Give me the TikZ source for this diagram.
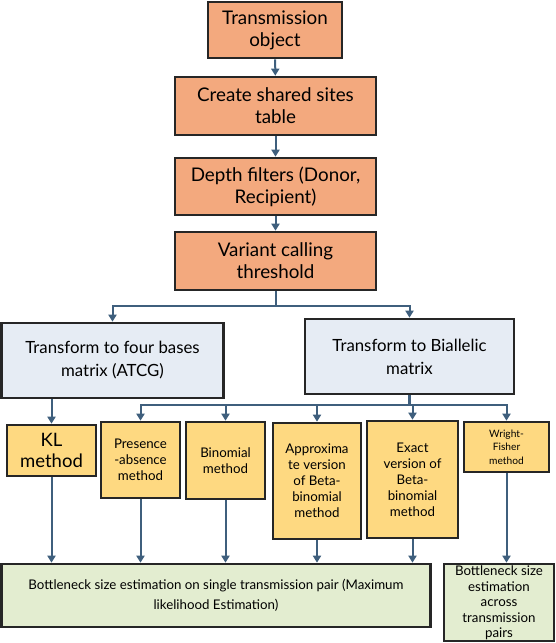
\documentclass[tikz,border=0pt]{standalone}
\usepackage{fontspec}
\setmainfont{Lato}
\usetikzlibrary{arrows.meta}
\definecolor{orangefill}{HTML}{F3A97E}
\definecolor{bluefill}{HTML}{E6ECF4}
\definecolor{yellowfill}{HTML}{FED981}
\definecolor{greenfill}{HTML}{E3EDD0}
\definecolor{edge}{HTML}{262626}
\definecolor{arrowc}{HTML}{3F5F7D}
\tikzset{
  basebox/.style={draw=edge, line width=2.6pt, align=center, inner sep=0pt},
  obox/.style={basebox, fill=orangefill, font=\fontsize{18.8}{22}\selectfont},
  bbox/.style={basebox, fill=bluefill, font=\fontsize{16.8}{23}\selectfont},
  ybox/.style={basebox, fill=yellowfill, font=\fontsize{13.3}{16}\selectfont},
  gbox/.style={basebox, fill=greenfill},
  arr/.style={draw=arrowc, line width=2pt, -{Triangle[width=8pt,length=7pt]}},
  ln/.style={draw=arrowc, line width=2pt},
}
\begin{document}
\begin{tikzpicture}[x=1pt,y=-1pt]
\useasboundingbox (0,0) rectangle (555,643);
% orange chain
\node[obox, minimum width=134pt, minimum height=56pt] (t1) at (275,30) {Transmission\\object};
\node[obox, minimum width=201pt, minimum height=58pt] (t2) at (275.5,106) {Create shared sites\\table};
\node[obox, minimum width=201pt, minimum height=57pt] (t3) at (275.5,186.5) {Depth filters (Donor,\\Recipient)};
\node[obox, minimum width=201pt, minimum height=58pt] (t4) at (275.5,261) {Variant calling\\threshold};
% blue
\node[bbox, minimum width=222pt, minimum height=75pt] (b1) at (112.5,360.5) {Transform to four bases\\matrix (ATCG)};
\node[bbox, minimum width=209pt, minimum height=75pt] (b2) at (409.5,356.5) {Transform to Biallelic\\matrix};
% yellow
\node[ybox, minimum width=89pt, minimum height=51pt, font=\fontsize{18.5}{21}\selectfont] (y1) at (51.5,450.5) {KL\\method};
\node[ybox, minimum width=79pt, minimum height=76pt] (y2) at (140.5,460) {Presence\\-absence\\method};
\node[ybox, minimum width=79pt, minimum height=77pt] (y3) at (225.5,460.5) {Binomial\\method};
\node[ybox, minimum width=88pt, minimum height=116pt] (y4) at (317,481) {Approxima\\te version\\of Beta-\\binomial\\method};
\node[ybox, minimum width=91pt, minimum height=117pt] (y5) at (412.5,479.5) {Exact\\version of\\Beta-\\binomial\\method};
\node[ybox, minimum width=85pt, minimum height=50pt, font=\fontsize{10.2}{13.3}\selectfont] (y6) at (506.5,447) {Wright-\\Fisher\\method};
% green
\node[gbox, minimum width=429pt, minimum height=63pt, font=\fontsize{13.3}{19.5}\selectfont] (g1) at (216,595.5) {Bottleneck size estimation on single transmission pair (Maximum\\likelihood Estimation)};
\node[gbox, minimum width=110pt, minimum height=77pt] (g2) at (499,602.5) {};
\node[align=center, inner sep=0pt, font=\fontsize{13.3}{15.5}\selectfont] (g2t) at (499,603) {Bottleneck size\\estimation\\across\\transmission\\pairs};
% connectors
\draw[arr] (t1) -- (t2);
\draw[arr] (t2) -- (t3);
\draw[arr] (t3) -- (t4);
\coordinate (j1) at (275.5,306);
\draw[ln] (t4.south) -- (j1);
\draw[arr] (j1) -| (b1.north);
\draw[arr] (j1) -| (b2.north);
\draw[arr] (y1.north |- b1.south) -- (y1.north);
\coordinate (j2) at (409.5,405);
\draw[ln, line width=3pt] (b2.south) -- (j2);
\draw[arr] (j2) -| (y2.north);
\draw[arr] (j2) -| (y3.north);
\draw[arr] (j2) -| (y4.north);
\draw[arr] (j2) -| (y5.north);
\draw[arr] (j2) -| (y6.north);
\draw[arr] (y1.south) -- (y1.south |- g1.north);
\draw[arr] (y2.south) -- (y2.south |- g1.north);
\draw[arr] (y3.south) -- (y3.south |- g1.north);
\draw[arr] (y4.south) -- (y4.south |- g1.north);
\draw[arr] (y5.south) -- (y5.south |- g1.north);
\draw[arr] (y6.south) -- (y6.south |- g2.north);
\end{tikzpicture}
\end{document}
